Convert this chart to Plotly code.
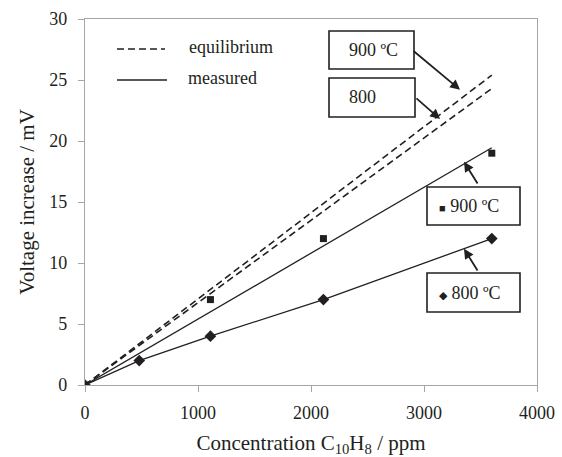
import plotly.graph_objects as go

# ---- data ----
conc_800 = [0, 480, 1110, 2110, 3600]
volt_800 = [0, 2, 4, 7, 12]

conc_900 = [0, 1110, 2110, 3600]
volt_900 = [0, 7, 12, 19]

# linear fit of the 900 C measurements (end points of drawn line)
fit900_x = [0, 3600]
fit900_y = [0, 19.45]

# equilibrium lines
eq900_x = [0, 3600]
eq900_y = [0, 25.4]
eq800_x = [0, 3600]
eq800_y = [0, 24.3]

FONT = "'Liberation Serif', 'Times New Roman', Times, serif"
INK = "#231f20"
AX = "#a6a6a6"

fig = go.Figure()
fig.add_trace(go.Scatter(x=eq900_x, y=eq900_y, mode="lines",
                         line=dict(color=INK, width=1.6, dash="7px,4px"), showlegend=False))
fig.add_trace(go.Scatter(x=eq800_x, y=eq800_y, mode="lines",
                         line=dict(color=INK, width=1.6, dash="7px,4px"), showlegend=False))
fig.add_trace(go.Scatter(x=fit900_x, y=fit900_y, mode="lines",
                         line=dict(color=INK, width=1.3), showlegend=False))
fig.add_trace(go.Scatter(x=conc_900, y=volt_900, mode="markers",
                         marker=dict(symbol="square", size=7, color=INK), showlegend=False))
fig.add_trace(go.Scatter(x=conc_800, y=volt_800, mode="lines+markers",
                         line=dict(color=INK, width=1.3),
                         marker=dict(symbol="diamond", size=9, color=INK), showlegend=False))

# plot area in pixels: x 85..537, y 19..385
L, R, T, B = 85, 537, 19, 385
def px(xp): return (xp - L) / (R - L)
def py(yp): return (B - yp) / (B - T)

shapes = []
annotations = []

# legend samples
shapes.append(dict(type="line", xref="paper", yref="paper", x0=px(117), x1=px(165), y0=py(49), y1=py(49),
                   line=dict(color=INK, width=1.6, dash="7px,4px")))
shapes.append(dict(type="line", xref="paper", yref="paper", x0=px(117), x1=px(167), y0=py(80), y1=py(80),
                   line=dict(color=INK, width=1.5)))
annotations.append(dict(xref="paper", yref="paper", x=px(187), y=py(47), xanchor="left", yanchor="middle",
                        text="equilibrium", showarrow=False, font=dict(family=FONT, size=18, color=INK)))
annotations.append(dict(xref="paper", yref="paper", x=px(186), y=py(78), xanchor="left", yanchor="middle",
                        text="measured", showarrow=False, font=dict(family=FONT, size=18, color=INK)))

# boxes
boxes = [
    (329, 414, 31, 69, "900 \u00baC", 347),
    (329, 415, 78, 117, "800", 347),
    (427, 520, 187, 225, "<span style='font-size:11px'>\u25a0</span> 900 \u00baC", 437),
    (427, 520, 273, 312, "<span style='font-size:11px'>\u25c6</span> 800 \u00baC", 437),
]
for x0, x1, y0, y1, txt, tx in boxes:
    shapes.append(dict(type="rect", xref="paper", yref="paper", x0=px(x0), x1=px(x1), y0=py(y1), y1=py(y0),
                       line=dict(color=INK, width=1.6), fillcolor="white", layer="above"))
    annotations.append(dict(xref="paper", yref="paper", x=px(tx), y=py((y0 + y1) / 2),
                            xanchor="left", yanchor="middle", text=txt, showarrow=False,
                            font=dict(family=FONT, size=18, color=INK)))

# arrows (tail -> head) in data coordinates
arrows = [
    ((2894, 27.48), (3319, 24.2)),
    ((2920, 23.6), (3142, 21.8)),
    ((3482, 16.4), (3354, 18.3)),
    ((3482, 9.27), (3354, 11.16)),
]
for (ax_, ay_), (hx, hy) in arrows:
    annotations.append(dict(x=hx, y=hy, ax=ax_, ay=ay_, xref="x", yref="y", axref="x", ayref="y",
                            text="", showarrow=True, arrowhead=2, arrowsize=1.1, arrowwidth=1.8,
                            arrowcolor=INK))

fig.update_layout(
    width=562, height=457,
    margin=dict(l=L, r=562 - R, t=T, b=457 - B),
    paper_bgcolor="white", plot_bgcolor="white",
    font=dict(family=FONT, size=18, color=INK),
    shapes=shapes, annotations=annotations,
    showlegend=False,
)
fig.update_xaxes(range=[0, 4000], dtick=1000, tick0=0, showgrid=False, zeroline=False,
                 showline=True, mirror=True, linecolor=AX, linewidth=1.3, automargin=False,
                 ticks="outside", ticklen=6, tickcolor=AX, tickwidth=1.3,
                 tickfont=dict(family=FONT, size=18, color=INK), ticklabelstandoff=5,
                 title=dict(text="Concentration C<sub>10</sub>H<sub>8</sub> / ppm",
                            font=dict(family=FONT, size=21, color=INK), standoff=16))
fig.update_yaxes(range=[0, 30], dtick=5, tick0=0, showgrid=False, zeroline=False,
                 showline=True, mirror=True, linecolor=AX, linewidth=1.3, automargin=False,
                 ticks="outside", ticklen=6, tickcolor=AX, tickwidth=1.3,
                 tickfont=dict(family=FONT, size=18, color=INK), ticklabelstandoff=7,
                 title=dict(text="Voltage increase / mV",
                            font=dict(family=FONT, size=21, color=INK), standoff=8))

fig.write_html("out.html")
